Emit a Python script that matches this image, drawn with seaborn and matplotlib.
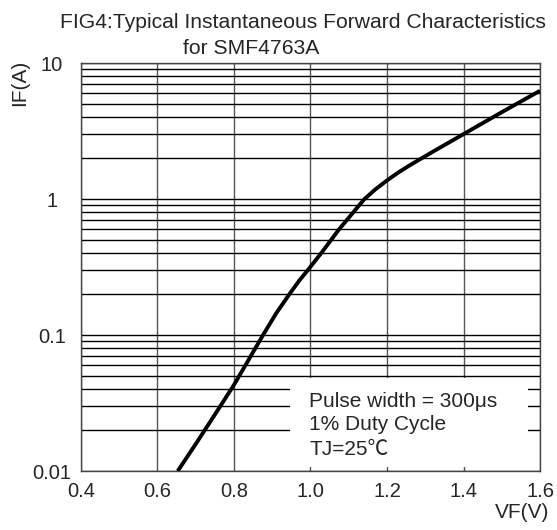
import numpy as np
import pandas as pd
import matplotlib.pyplot as plt
import seaborn as sns
from matplotlib.patches import Rectangle
from matplotlib.ticker import LogLocator, FixedLocator

# Данные кривой
vf = [0.653, 0.70, 0.75, 0.80, 0.876, 0.91, 0.945, 0.97, 0.993, 1.028, 1.075, 1.141,
      1.17, 1.20, 1.23, 1.258, 1.319, 1.40, 1.50, 1.60]
if_a = [0.010, 0.0158, 0.026, 0.043, 0.100, 0.144, 0.20, 0.25, 0.30, 0.40, 0.60, 1.00,
        1.18, 1.37, 1.57, 1.76, 2.22, 3.0, 4.35, 6.25]

x_ticks = [0.4, 0.6, 0.8, 1.0, 1.2, 1.4, 1.6]
x_labels = ["0.4", "0.6", "0.8", "1.0", "1.2", "1.4", "1.6"]
y_ticks = [0.01, 0.1, 1, 10]
y_labels = ["0.01", "0.1", "1", "10"]

note_lines = ["Pulse width = 300μs", "1% Duty Cycle", "TJ=25℃"]

sns.set_style("white")
plt.rcParams["font.family"] = ["Liberation Sans", "Noto Sans CJK SC", "DejaVu Sans"]

df = pd.DataFrame({"VF": vf, "IF": if_a})

fig = plt.figure(figsize=(5.57, 5.30), dpi=100)
ax = fig.add_axes([0.1454, 0.1113, 0.9695 - 0.1454, 0.8811 - 0.1113])

sns.lineplot(data=df, x="VF", y="IF", ax=ax, color="black", linewidth=2.8, zorder=4,
             solid_joinstyle="round", solid_capstyle="butt")

ax.set_yscale("log")
ax.set_xlim(0.4, 1.6)
ax.set_ylim(0.01, 10)

ax.xaxis.set_major_locator(FixedLocator(x_ticks))
ax.set_xticklabels(x_labels)
ax.yaxis.set_major_locator(FixedLocator(y_ticks))
ax.set_yticklabels(y_labels)
ax.yaxis.set_minor_locator(LogLocator(base=10, subs=np.arange(2, 10)))

ax.set_axisbelow(True)
ax.grid(True, which="major", axis="x", color="#555555", linewidth=1.0)
ax.grid(True, which="both", axis="y", color="black", linewidth=1.0)

ax.tick_params(axis="x", which="major", direction="in", length=3, color="#555555",
               labelsize=14.5, pad=8)
ax.tick_params(axis="y", which="both", length=0, labelsize=14.5, pad=21)
for lab in ax.get_yticklabels():
    lab.set_horizontalalignment("center")

for s in ax.spines.values():
    s.set_color("#444444")
    s.set_linewidth(1.0)

ax.set_xlabel("")
ax.set_ylabel("")

# Белый прямоугольник под подписью
ax.add_patch(Rectangle((0.455, 0.009), 0.974 - 0.455, 0.228 - 0.009,
                       transform=ax.transAxes, facecolor="white", edgecolor="none",
                       zorder=1))
note_y = [0.157, 0.1005, 0.039]
for t, yy in zip(note_lines, note_y):
    ax.text(0.497, yy, t, transform=ax.transAxes, fontsize=15,
            va="baseline", ha="left", zorder=5)

fig.text(0.108, 0.9472, "FIG4:Typical Instantaneous Forward Characteristics",
         fontsize=15.2, ha="left", va="baseline")
fig.text(0.329, 0.898, "for SMF4763A", fontsize=15.2, ha="left", va="baseline")

fig.text(0.036, 0.844, "IF(A)", fontsize=15, rotation=90, ha="center", va="center")
fig.text(0.9857, 0.0226, "VF(V)", fontsize=15, ha="right", va="baseline")

plt.savefig("out.png", dpi=100)
